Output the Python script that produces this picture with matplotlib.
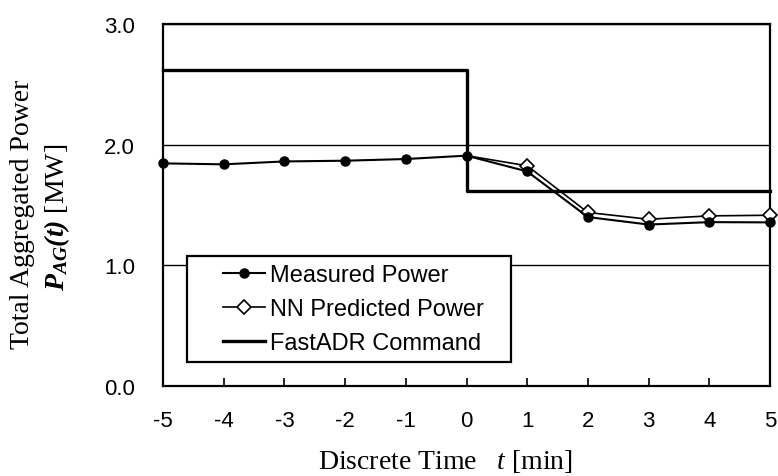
import matplotlib
matplotlib.use("Agg")
import matplotlib.pyplot as plt
from matplotlib.lines import Line2D
from matplotlib.legend_handler import HandlerLine2D

plt.rcParams['font.family'] = ['Liberation Sans', 'DejaVu Sans']
plt.rcParams['mathtext.fontset'] = 'custom'
plt.rcParams['mathtext.rm'] = 'Liberation Serif'
plt.rcParams['mathtext.it'] = 'Liberation Serif:italic'
plt.rcParams['mathtext.bf'] = 'Liberation Serif:bold:italic'

# time steps in minutes relative to the FastADR command
t = [-5, -4, -3, -2, -1, 0, 1, 2, 3, 4, 5]
measured = [1.845, 1.837, 1.861, 1.867, 1.881, 1.909, 1.778, 1.40, 1.338, 1.358, 1.356]
t_pred = [0, 1, 2, 3, 4, 5]
predicted = [1.909, 1.825, 1.438, 1.382, 1.41, 1.415]
t_cmd = [-5, 0, 5]
command = [2.62, 1.618, 1.618]

y_ticks = [0.0, 1.0, 2.0, 3.0]


class IndentedLine(HandlerLine2D):
    """Legend line handle that leaves a gap on its left side."""
    gap = 20

    def create_artists(self, legend, orig_handle, xdescent, ydescent,
                       width, height, fontsize, trans):
        return super().create_artists(legend, orig_handle, xdescent - self.gap,
                                      ydescent, width - self.gap, height,
                                      fontsize, trans)


fig = plt.figure(figsize=(7.78, 4.77), dpi=100)
ax = fig.add_axes([163 / 778, 1 - 387 / 477, 607 / 778, 362 / 477])

ax.step(t_cmd, command, where='post', color='black', lw=2.4,
        label='FastADR Command', zorder=3)
ax.plot(t_pred, predicted, color='black', lw=1.2, marker='D', markersize=7,
        markerfacecolor='white', markeredgecolor='black', markeredgewidth=1.2,
        markevery=list(range(1, len(t_pred))),
        label='NN Predicted Power', zorder=4)
ax.plot(t, measured, color='black', lw=1.5, marker='o', markersize=6.5,
        label='Measured Power', zorder=5)

ax.set_xlim(-5, 5)
ax.set_ylim(0, 3)
ax.set_xticks(t)
ax.set_xticklabels([str(v) for v in t])
ax.set_yticks(y_ticks)
ax.set_yticklabels([f"{v:.1f}" for v in y_ticks])
ax.tick_params(axis='x', direction='in', length=6, width=1.2, labelsize=16, pad=17)
ax.tick_params(axis='y', length=0, labelsize=16, pad=20)
ax.grid(axis='y', color='black', lw=1.0)
ax.set_axisbelow(True)
for sp in ax.spines.values():
    sp.set_linewidth(1.6)
for ln in ax.lines:
    ln.set_clip_on(False)

# legend box spans a fixed region of the axes
handles, labels = ax.get_legend_handles_labels()
order = [2, 1, 0]
leg = ax.legend([handles[i] for i in order], [labels[i] for i in order],
                loc='lower left', bbox_to_anchor=(0.0395, 0.066, 0.534, 0.3),
                mode='expand', borderaxespad=0, fontsize=17, frameon=True,
                fancybox=False, framealpha=1, edgecolor='black',
                handlelength=2.95, handletextpad=0.2, labelspacing=0.5,
                borderpad=0.35, handler_map={Line2D: IndentedLine()})
leg.get_frame().set_linewidth(1.6)

fig.text(23 / 778, 1 - 214 / 477, 'Total Aggregated Power', rotation=90,
         ha='center', va='center', fontsize=20, family='Liberation Serif')
fig.text(57 / 778, 1 - 217 / 477, r'$\mathbf{P_{AG}(t)}$ [MW]', rotation=90,
         ha='center', va='center', fontsize=20, family='Liberation Serif')
fig.text(445 / 778, 1 - 462 / 477, r'Discrete Time   $t$ [min]',
         ha='center', va='center', fontsize=20, family='Liberation Serif')

fig.savefig('out.png', dpi=100)
